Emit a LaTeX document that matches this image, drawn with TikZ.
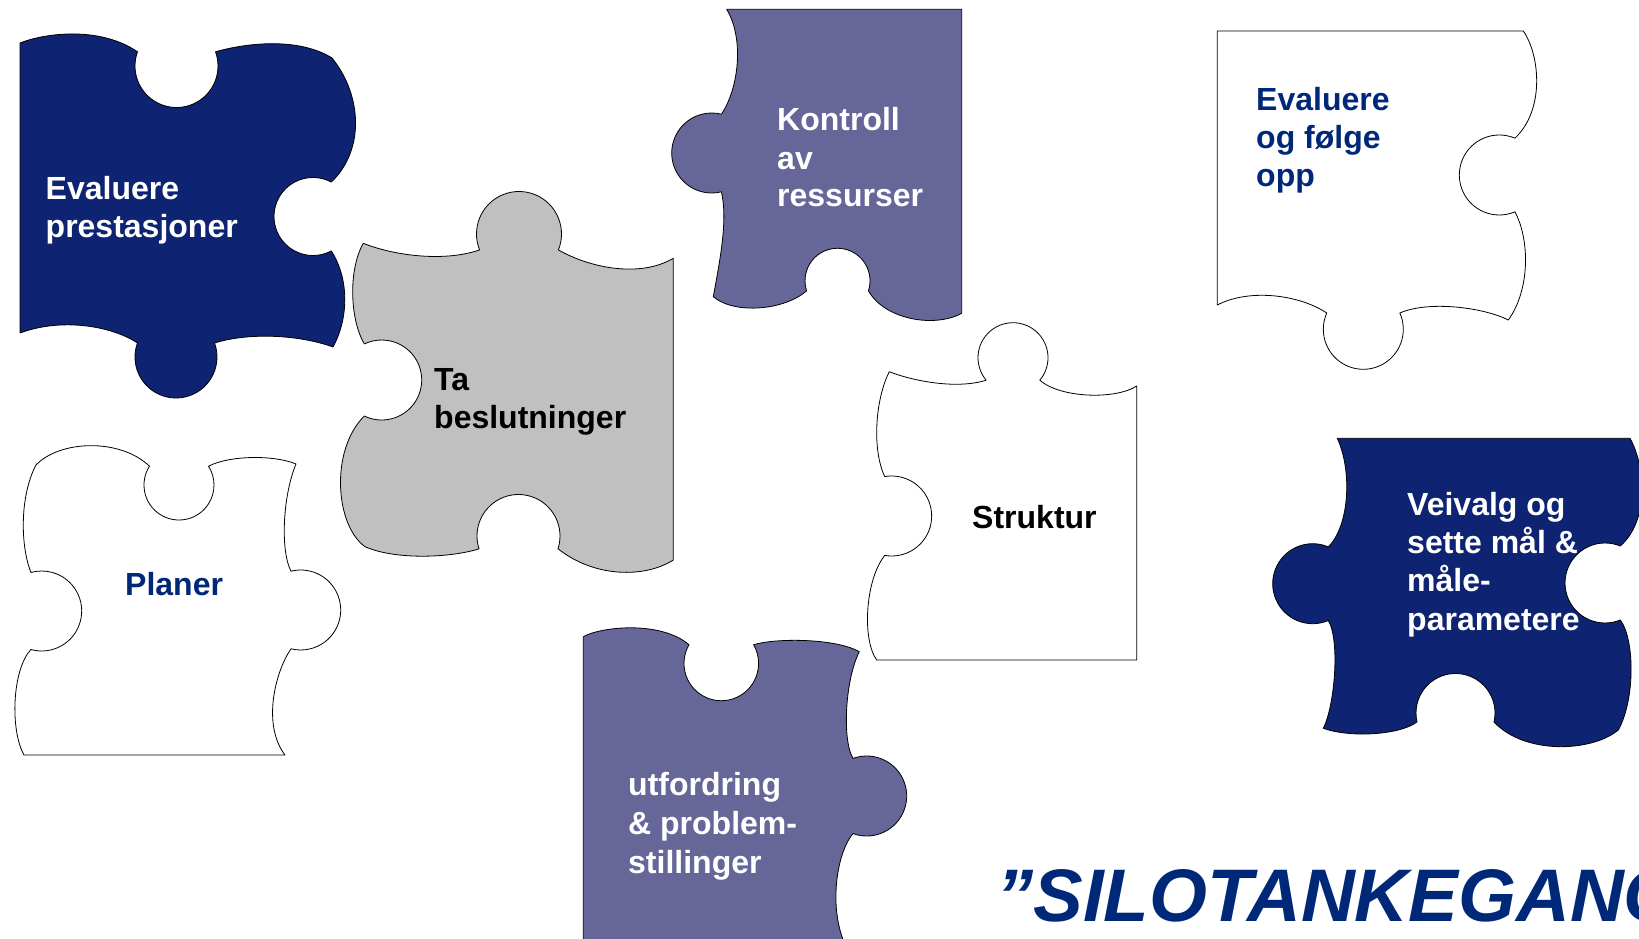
\documentclass[tikz,border=0pt]{standalone}
\usepackage{fontspec}
\setmainfont{Liberation Sans}
\usetikzlibrary{calc}
\definecolor{navyfill}{RGB}{14,36,114}
\definecolor{purplefill}{RGB}{102,102,153}
\definecolor{greyfill}{RGB}{192,192,192}
\definecolor{textnavy}{RGB}{0,40,120}
\begin{document}
\begin{tikzpicture}[x=1pt,y=-1pt,
  piece/.style={draw=black,line width=0.8pt,line join=round},
  navypiece/.style={piece,fill=navyfill},
  purplepiece/.style={piece,fill=purplefill},
  greypiece/.style={piece,fill=greyfill},
  whitepiece/.style={piece,fill=white},
  % a round tab or socket: centre x, centre y, radius, start angle, end angle
  knob/.style n args={5}{insert path={-- ($(#1,#2)+(#4:#3)$) arc[start angle=#4,end angle=#5,radius=#3]}},
  ptext/.style={anchor=base west,inner sep=0pt,font=\fontsize{32}{37}\selectfont\bfseries},
  whitetext/.style={ptext,text=white},
  blacktext/.style={ptext,text=black},
  navytext/.style={ptext,text=textnavy},
]
\useasboundingbox (0,0) rectangle (1639,939);
\clip (0,0) rectangle (1639,939);

% Evaluere prestasjoner
\path[navypiece] (20,43) .. controls (45,33) and (100,26) .. (137.5,51.8)
  [knob={176.5}{66}{41.5}{200}{-20}]
  .. controls (250,42) and (300,38) .. (332,58)
  .. controls (362,95) and (365,150) .. (331.3,182.1)
  [knob={313}{216.5}{39}{-62}{-298}]
  .. controls (350,280) and (348,320) .. (333,347)
  .. controls (300,335) and (250,332) .. (214.5,343)
  [knob={176}{357}{41}{-20}{200}]
  .. controls (110,325) and (60,318) .. (20,333) -- cycle;
\node[whitetext] (t1a) at (45.5,199) {Evaluere};
\node[whitetext] (t1b) at (45.5,237) {prestasjoner};

% Ta beslutninger
\path[greypiece] (363.3,243.3) .. controls (395,256) and (445,262) .. (479.6,249.9)
  [knob={519}{234}{42.5}{158}{382}]
  .. controls (590,268) and (640,278) .. (673.3,258.3)
  -- (673.3,560)
  .. controls (645,578) and (595,578) .. (558,548.8)
  [knob={518.5}{536}{41.5}{18}{-198}]
  .. controls (450,558) and (395,560) .. (365,546.7)
  .. controls (335,525) and (330,450) .. (364.3,416)
  [knob={381.7}{380}{40}{115.7}{-115.7}]
  .. controls (350,320) and (348,270) .. (363.3,243.3) -- cycle;
\node[blacktext] (t2a) at (434,390) {Ta};
\node[blacktext] (t2b) at (434,428.3) {beslutninger};

% Kontroll av ressurser
\path[purplepiece] (726.7,9.3) -- (961.7,9.3) -- (961.7,313.3)
  .. controls (935,328) and (885,320) .. (868.4,290.8)
  [knob={837.5}{280.8}{32.5}{18}{-198}]
  .. controls (785,310) and (735,315) .. (713.3,296.7)
  .. controls (720,260) and (728,220) .. (721.4,191.8)
  [knob={711.7}{153}{40}{76}{284}]
  .. controls (738,90) and (745,40) .. (726.7,9.3) -- cycle;
\node[whitetext] (t3a) at (777,131) {Kontroll};
\node[whitetext] (t3b) at (777,169) {av};
\node[whitetext] (t3c) at (777,207) {ressurser};

% Evaluere og folge opp
\path[whitepiece] (1217.3,31) -- (1523.3,31)
  .. controls (1540,55) and (1545,110) .. (1514.9,138.2)
  [knob={1499.3}{175}{40}{-67}{-293}]
  .. controls (1530,240) and (1530,290) .. (1508.3,320)
  .. controls (1485,308) and (1430,300) .. (1399.8,313)
  [knob={1363.3}{329.3}{40}{-24}{204}]
  .. controls (1300,295) and (1250,288) .. (1217.3,305) -- cycle;
\node[navytext] (t4a) at (1256,110.5) {Evaluere};
\node[navytext] (t4b) at (1256,148.5) {og følge};
\node[navytext] (t4c) at (1256,186.5) {opp};

% Planer
\path[whitepiece] (36,465) .. controls (60,440) and (120,438) .. (149.5,466.2)
  [knob={179}{485}{35}{212.5}{-32.5}]
  .. controls (230,455) and (275,455) .. (296,464)
  .. controls (283,495) and (280,550) .. (291,571.2)
  [knob={300.7}{610}{40}{-104}{104}]
  .. controls (275,672) and (262,725) .. (285,755)
  -- (24,755)
  .. controls (10,730) and (12,670) .. (30.9,649.5)
  [knob={41.7}{611}{40}{105.6}{-105.6}]
  .. controls (20,545) and (20,495) .. (36,465) -- cycle;
\node[navytext] (t5a) at (125,595) {Planer};

% Struktur
\path[whitepiece] (889.3,371.7) .. controls (910,380) and (955,390) .. (986.2,380.2)
  [knob={1013}{357.7}{35}{140}{400}]
  .. controls (1060,398) and (1115,400) .. (1136.7,386)
  -- (1136.7,660) -- (876.7,660)
  .. controls (862,640) and (865,580) .. (884.8,555.4)
  [knob={891.7}{516}{40}{100}{-100}]
  .. controls (872,450) and (875,400) .. (889.3,371.7) -- cycle;
\node[blacktext] (t6a) at (972,528.3) {Struktur};

% utfordring & problemstillinger
\path[purplepiece] (583.3,636.7) .. controls (600,627) and (660,620) .. (689,644.75)
  [knob={721.3}{663.4}{37.3}{210}{-30}]
  .. controls (775,638) and (835,638) .. (859.3,651.7)
  .. controls (845,680) and (842,740) .. (853,758.4)
  [knob={866.7}{796}{40}{-110}{110}]
  .. controls (835,855) and (828,915) .. (848,950)
  -- (848,970) -- (583.3,970) -- cycle;
\node[whitetext] (t7a) at (628,795) {utfordring};
\node[whitetext] (t7b) at (628,834) {\& problem-};
\node[whitetext] (t7c) at (628,873) {stillinger};

% Veivalg og sette maal
\path[navypiece] (1337.3,438.3) -- (1630,438.3)
  .. controls (1645,465) and (1650,520) .. (1620.3,546)
  [knob={1605}{583}{40}{-67.5}{-292.5}]
  .. controls (1635,640) and (1635,700) .. (1618.3,730)
  .. controls (1592,752) and (1525,755) .. (1494,722)
  [knob={1455.5}{713}{39.5}{13}{-193}]
  .. controls (1400,735) and (1350,738) .. (1323.3,728.3)
  .. controls (1335,705) and (1340,640) .. (1328.3,620.5)
  [knob={1312.7}{583.7}{40}{67}{293}]
  .. controls (1350,525) and (1352,470) .. (1337.3,438.3) -- cycle;
\node[whitetext] (t8a) at (1407,515) {Veivalg og};
\node[whitetext] (t8b) at (1407,553.3) {sette mål \&};
\node[whitetext] (t8c) at (1407,591.7) {måle-};
\node[whitetext] (t8d) at (1407,630) {parametere};

% Title
\node[anchor=base west,inner sep=0pt,text=textnavy,
  font=\fontsize{74.5}{80}\selectfont\bfseries\itshape] (title) at (996,921.7) {”SILOTANKEGANG”};
\end{tikzpicture}
\end{document}
